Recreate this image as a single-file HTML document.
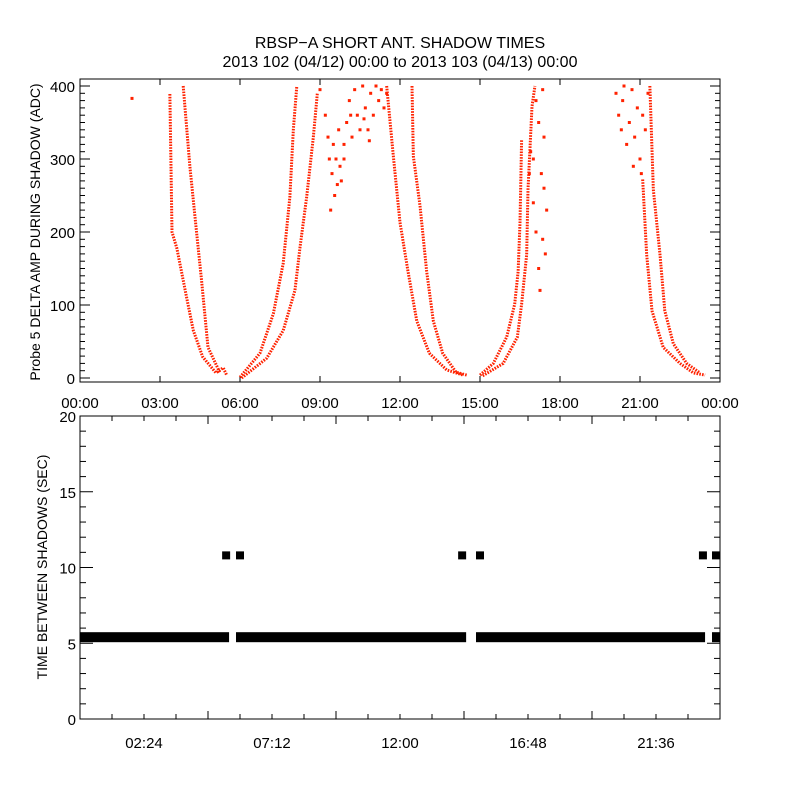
<!DOCTYPE html>
<html><head><meta charset="utf-8">
<style>
html,body{margin:0;padding:0;background:#fff;}
svg{display:block;font-family:"Liberation Sans",sans-serif;}
</style></head>
<body>
<svg id="chart" width="800" height="800" viewBox="0 0 800 800">
<rect width="800" height="800" fill="#fff"/>
<text x="400" y="48" text-anchor="middle" font-size="16" fill="#000">RBSP−A SHORT ANT. SHADOW TIMES</text>
<text x="400" y="67" text-anchor="middle" font-size="16" fill="#000">2013 102 (04/12) 00:00 to 2013 103 (04/13) 00:00</text>
<g id="topPanel"></g>
<g id="botPanel"></g>
</svg>
<script>
// ---- top panel data: (hour, ADC) samples along each shadow branch ----
const branchA=[[3.37,389],[3.45,200],[3.63,178],[4.0,110],[4.25,65],[4.6,29],[5.1,7],[5.37,14],[5.5,4]];
const branchB=[[3.87,400],[4.12,290],[4.37,200],[4.56,133],[4.8,42],[5.25,7]];
const branchC=[[6.0,1],[6.75,34],[7.25,88],[7.62,157],[7.87,248],[8.0,340],[8.13,400]];
const branchD=[[6.06,0],[7.0,27],[7.62,65],[8.06,120],[8.25,179],[8.5,248],[8.75,330],[8.9,390]];
const branchE=[[11.5,400],[11.75,304],[12.0,213],[12.3,146],[12.63,78],[13.1,34],[13.75,11],[14.37,4]];
const branchF=[[12.45,400],[12.5,304],[12.75,236],[13.0,146],[13.25,78],[13.6,34],[14.1,8],[14.5,4]];
const branchG=[[15.0,4],[15.5,20],[16.0,56],[16.3,101],[16.43,146],[16.5,213],[16.56,326]];
const branchH=[[15.1,3],[15.87,20],[16.4,56],[16.56,101],[16.75,169],[16.8,258],[16.95,372],[17.06,400]];
const branchJ=[[21.1,272],[21.25,169],[21.45,92],[21.87,42],[22.5,20],[23.0,7],[23.44,4]];
const branchK=[[21.37,400],[21.5,258],[21.75,169],[21.93,92],[22.25,47],[22.75,20],[23.25,7]];
const scatterPts=[[9.0,395],[9.2,360],[9.3,330],[9.35,300],[9.45,280],[9.5,320],[9.55,250],[9.6,300],[9.7,340],[9.75,290],[9.8,270],[9.9,320],[10.0,350],[10.1,380],[10.2,330],[10.3,395],[10.4,360],[10.5,340],[10.6,400],[10.7,370],[10.8,340],[10.9,390],[11.0,360],[11.1,400],[11.2,380],[11.3,395],[9.4,230],[9.9,300],[10.15,360],[10.65,355],[11.4,370],[11.5,390],[10.85,325],[9.65,265],
[17.0,240],[17.1,200],[17.2,150],[17.25,120],[17.3,280],[17.35,190],[17.4,260],[17.5,230],[17.0,300],[17.2,350],[17.4,330],[17.1,380],[17.35,395],[16.9,310],[17.45,170],[16.85,280],
[20.1,390],[20.2,360],[20.3,340],[20.35,380],[20.5,320],[20.6,350],[20.7,395],[20.8,330],[20.9,370],[21.0,300],[21.1,360],[21.2,340],[21.3,390],[20.4,400],[20.75,290],[21.05,280],[1.95,383]];
const topYTicks=[0,100,200,300,400];
const topXLabels=["00:00","03:00","06:00","09:00","12:00","15:00","18:00","21:00","00:00"];
// ---- bottom panel data ----
const bandStart=[0.0,5.85,14.85,23.7];
const bandEnd=[5.59,14.48,23.44,24.0];
const bandValue=[5.4,5.4,5.4,5.4];
const gapHours=[5.48,6.0,14.33,15.0,23.36,23.85];
const gapValues=[10.8,10.8,10.8,10.8,10.8,10.8];
const botYTicks=[0,5,10,15,20];
const botXLabels=["02:24","07:12","12:00","16:48","21:36"];

const NS="http://www.w3.org/2000/svg";
function mk(tag,attrs,parent){const e=document.createElementNS(NS,tag);for(const k in attrs)e.setAttribute(k,attrs[k]);parent.appendChild(e);return e;}
const L=80,R=720;
const xS=h=>L+h/24*(R-L);
const T0=79,T1=382;
const yT=v=>378-v*0.73;
const B0=416,B1=719;
const yB=v=>719-v*15.15;

const topG=document.getElementById('topPanel'), botG=document.getElementById('botPanel');

const tf=mk('rect',{x:L,y:T0,width:R-L,height:T1-T0,fill:'none',stroke:'#000','stroke-width':1},topG);


for(let v=0;v<=410;v+=10){const y=yT(v);if(y<T0)continue;const len=v%100===0?10:5;
 mk('line',{x1:L,x2:L+len,y1:y,y2:y,stroke:'#000'},topG);mk('line',{x1:R,x2:R-len,y1:y,y2:y,stroke:'#000'},topG);}
topYTicks.forEach(v=>{const t=mk('text',{x:75,y:yT(v)+6,'text-anchor':'end','font-size':15},topG);t.textContent=v;
 
 });
topXLabels.forEach((s,i)=>{const x=xS(i*3);
 mk('line',{x1:x,x2:x,y1:T1,y2:T1-6,stroke:'#000'},topG);mk('line',{x1:x,x2:x,y1:T0,y2:T0+6,stroke:'#000'},topG);
 const t=mk('text',{x:x,y:408,'text-anchor':'middle','font-size':15},topG);t.textContent=s;
 
 });
const yl=mk('text',{x:0,y:0,'text-anchor':'middle','font-size':14,transform:'translate(40,232) rotate(-90)'},topG);
yl.textContent='Probe 5 DELTA AMP DURING SHADOW (ADC)';



const defs=mk('defs',{},topG);const cp=mk('clipPath',{id:'ctop'},defs);mk('rect',{x:L,y:T0,width:R-L,height:T1-T0},cp);
const series=mk('g',{'clip-path':'url(#ctop)'},topG);


[branchA,branchB,branchC,branchD,branchE,branchF,branchG,branchH,branchJ,branchK].forEach((b,i)=>{
 const p=mk('polyline',{points:b.map(d=>xS(d[0])+','+yT(d[1])).join(' '),fill:'none',stroke:'#ff2200','stroke-width':3,'stroke-dasharray':'1.6 1.2'},series);
 
 
});
scatterPts.forEach(d=>{const r=mk('rect',{x:xS(d[0])-1.5,y:yT(d[1])-1.5,width:3,height:3,fill:'#ff2200'},series);
 
 });

const bf=mk('rect',{x:L,y:B0,width:R-L,height:B1-B0,fill:'none',stroke:'#000','stroke-width':1},botG);


for(let v=0;v<=20;v++){const y=yB(v);const len=v%5===0?13:6;
 mk('line',{x1:L,x2:L+len,y1:y,y2:y,stroke:'#000'},botG);mk('line',{x1:R,x2:R-len,y1:y,y2:y,stroke:'#000'},botG);}
botYTicks.forEach(v=>{const t=mk('text',{x:76,y:yB(v)+6,'text-anchor':'end','font-size':15},botG);t.textContent=v;
 
 });
for(let i=1;i<20;i++){const x=xS(i*1.2);const len=i%4===0?8:5;
 mk('line',{x1:x,x2:x,y1:B1,y2:B1-len,stroke:'#000'},botG);mk('line',{x1:x,x2:x,y1:B0,y2:B0+len,stroke:'#000'},botG);}
botXLabels.forEach((s,i)=>{const t=mk('text',{x:xS((i+0.5)*4.8),y:748,'text-anchor':'middle','font-size':15},botG);t.textContent=s;
 
 });
const yl2=mk('text',{x:0,y:0,'text-anchor':'middle','font-size':14,transform:'translate(47,567) rotate(-90)'},botG);
yl2.textContent='TIME BETWEEN SHADOWS (SEC)';


bandStart.forEach((s,i)=>{const x0=xS(s),x1=xS(bandEnd[i]);
 const r=mk('rect',{x:x0,y:yB(bandValue[i])-5,width:x1-x0,height:10,fill:'#000'},botG);
 
 });
gapHours.forEach((h,i)=>{const x=xS(h),y=yB(gapValues[i]);
 const g=mk('g',{},botG);
 
 
 mk('rect',{x:x-4,y:y-4,width:8,height:8,fill:'#000'},g);
 mk('text',{x:x,y:y+5,'text-anchor':'middle','font-size':13,'font-weight':'bold'},g).textContent='*';
});
</script>
</body></html>
